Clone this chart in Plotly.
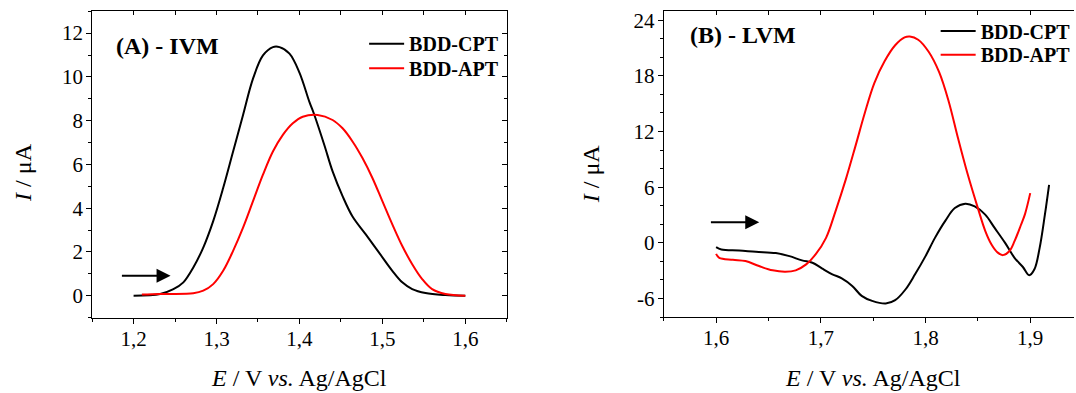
import plotly.graph_objects as go

# ---------------- data ----------------
# Panel A (IVM)
ivm_cpt_E = [1.200, 1.232, 1.248, 1.260, 1.272, 1.284, 1.296, 1.308, 1.320, 1.332, 1.344, 1.356,
             1.368, 1.376, 1.388, 1.400, 1.412, 1.418, 1.430, 1.440, 1.452, 1.464, 1.480, 1.496,
             1.512, 1.524, 1.536, 1.552, 1.576, 1.600]
ivm_cpt_I = [0.00, 0.08, 0.30, 0.61, 1.29, 2.20, 3.41, 4.92, 6.59, 8.26, 9.92, 10.98,
             11.36, 11.36, 11.06, 10.20, 8.86, 8.26, 6.89, 5.68, 4.55, 3.62, 2.80, 1.97,
             1.14, 0.61, 0.30, 0.12, 0.03, 0.00]

ivm_apt_E = [1.210, 1.232, 1.272, 1.284, 1.296, 1.308, 1.320, 1.332, 1.344, 1.356, 1.368, 1.380,
             1.392, 1.404, 1.422, 1.440, 1.452, 1.464, 1.476, 1.488, 1.500, 1.512, 1.524, 1.536,
             1.548, 1.560, 1.576, 1.600]
ivm_apt_I = [0.05, 0.08, 0.11, 0.23, 0.53, 1.14, 2.05, 3.11, 4.32, 5.53, 6.59, 7.35,
             7.88, 8.18, 8.26, 8.03, 7.65, 7.05, 6.29, 5.38, 4.32, 3.26, 2.27, 1.44,
             0.76, 0.30, 0.08, 0.00]

# Panel B (LVM)
lvm_cpt_E = [1.600, 1.605, 1.622, 1.638, 1.657, 1.670, 1.682, 1.692, 1.701, 1.711, 1.720, 1.730,
             1.739, 1.749, 1.762, 1.771, 1.781, 1.790, 1.800, 1.809, 1.819, 1.828, 1.838, 1.847,
             1.857, 1.866, 1.876, 1.885, 1.893, 1.899, 1.904, 1.909, 1.914, 1.918]
lvm_cpt_I = [-0.46, -0.71, -0.82, -0.96, -1.10, -1.43, -1.89, -2.14, -2.75, -3.39, -3.82, -4.64,
             -5.71, -6.25, -6.54, -6.18, -5.00, -3.39, -1.43, 0.54, 2.40, 3.75, 4.22, 3.93,
             3.04, 1.61, 0.00, -1.61, -2.60, -3.49, -2.85, -0.54, 3.04, 6.26]

lvm_apt_E = [1.600, 1.603, 1.616, 1.628, 1.641, 1.654, 1.666, 1.676, 1.686, 1.695, 1.705, 1.714,
             1.724, 1.733, 1.742, 1.751, 1.761, 1.771, 1.780, 1.785, 1.793, 1.803, 1.813, 1.822,
             1.831, 1.840, 1.850, 1.857, 1.863, 1.869, 1.874, 1.880, 1.885, 1.891, 1.895, 1.900]
lvm_apt_I = [-1.18, -1.61, -1.82, -1.96, -2.50, -2.96, -3.11, -2.96, -2.32, -1.25, 0.54, 3.40,
             6.90, 10.40, 14.00, 17.20, 19.60, 21.30, 22.15, 22.25, 21.90, 20.60, 18.40, 15.30,
             11.30, 7.50, 3.75, 1.30, -0.17, -1.05, -1.32, -0.90, 0.18, 1.90, 3.10, 5.36]

series_names = ["BDD-CPT", "BDD-APT"]
lvm_ytickvals = [-6, 0, 6, 12, 18, 24]
lvm_yticktext = ["-6", "0", "6", "12", "18", "24"]

# ---------------- figure ----------------
FONT = "Liberation Serif"
W, H = 1076, 393

def px(xp):
    return xp / W

def py(yp):
    return 1 - yp / H

fig = go.Figure()

fig.add_trace(go.Scatter(x=ivm_cpt_E, y=ivm_cpt_I, mode="lines", name=series_names[0],
                         line=dict(color="black", width=2, shape="spline"),
                         xaxis="x", yaxis="y", legend="legend"))
fig.add_trace(go.Scatter(x=ivm_apt_E, y=ivm_apt_I, mode="lines", name=series_names[1],
                         line=dict(color="#ff0000", width=2, shape="spline"),
                         xaxis="x", yaxis="y", legend="legend2"))
fig.add_trace(go.Scatter(x=lvm_cpt_E, y=lvm_cpt_I, mode="lines", name=series_names[0],
                         line=dict(color="black", width=2, shape="spline"),
                         xaxis="x2", yaxis="y2", legend="legend3"))
fig.add_trace(go.Scatter(x=lvm_apt_E, y=lvm_apt_I, mode="lines", name=series_names[1],
                         line=dict(color="#ff0000", width=2, shape="spline"),
                         xaxis="x2", yaxis="y2", legend="legend4"))
# empty traces so the mirrored (inside-tick) frame axes are drawn
fig.add_trace(go.Scatter(x=[], y=[], xaxis="x3", yaxis="y3", showlegend=False, hoverinfo="skip"))
fig.add_trace(go.Scatter(x=[], y=[], xaxis="x4", yaxis="y4", showlegend=False, hoverinfo="skip"))

tickfont = dict(family=FONT, size=21, color="black")
base_ax = dict(showgrid=False, zeroline=False, showline=True, linecolor="black", linewidth=1,
               tickcolor="black", tickwidth=1, tickfont=tickfont)

A_dom_x = [px(92.3), px(507.7)]
A_dom_y = [py(317.2), py(9.3)]
B_dom_x = [px(665.0), 1.0]
B_dom_y = [py(316.7), py(9.0)]
A_xr = [1.15, 1.65]
A_yr = [-1, 13]
B_xr = [1.55, 1.9418]
B_yr = [-8, 25]

fig.update_layout(
    xaxis=dict(base_ax, domain=A_dom_x, anchor="y", range=A_xr, tickmode="linear", tick0=1.2, dtick=0.1,
               ticks="outside", ticklen=5, ticklabelstandoff=-3,
               minor=dict(tickmode="linear", tick0=1.15, dtick=0.05, ticks="outside", ticklen=3,
                          tickcolor="black", showgrid=False)),
    yaxis=dict(base_ax, domain=A_dom_y, anchor="x", range=A_yr, tickmode="linear", tick0=0, dtick=2,
               ticks="outside", ticklen=5, ticklabelstandoff=-1,
               minor=dict(tickmode="linear", tick0=0, dtick=1, ticks="outside", ticklen=3,
                          tickcolor="black", showgrid=False)),
    xaxis3=dict(base_ax, overlaying="x", side="top", anchor="y3", range=A_xr, tickmode="linear",
                tick0=1.2, dtick=0.1, ticks="inside", ticklen=4, showticklabels=False,
                minor=dict(tickmode="linear", tick0=1.15, dtick=0.05, ticks="inside", ticklen=4,
                           tickcolor="black", showgrid=False)),
    yaxis3=dict(base_ax, overlaying="y", side="right", anchor="x3", range=A_yr, tickmode="linear",
                tick0=0, dtick=2, ticks="inside", ticklen=5, showticklabels=False,
                minor=dict(tickmode="linear", tick0=0, dtick=1, ticks="inside", ticklen=3,
                           tickcolor="black", showgrid=False)),
    xaxis2=dict(base_ax, domain=B_dom_x, anchor="y2", range=B_xr, tickmode="linear", tick0=1.6, dtick=0.1,
                ticks="outside", ticklen=5, ticklabelstandoff=-3,
                minor=dict(tickmode="linear", tick0=1.55, dtick=0.05, ticks="outside", ticklen=3,
                           tickcolor="black", showgrid=False)),
    yaxis2=dict(base_ax, domain=B_dom_y, anchor="x2", range=B_yr, tickmode="array",
                tickvals=lvm_ytickvals, ticktext=lvm_yticktext,
                ticks="outside", ticklen=5, ticklabelstandoff=-1,
                minor=dict(tickmode="linear", tick0=0, dtick=2, ticks="outside", ticklen=3,
                           tickcolor="black", showgrid=False)),
    xaxis4=dict(base_ax, overlaying="x2", side="top", anchor="y4", range=B_xr, tickmode="linear",
                tick0=1.6, dtick=0.1, ticks="inside", ticklen=4, showticklabels=False,
                minor=dict(tickmode="linear", tick0=1.55, dtick=0.05, ticks="inside", ticklen=4,
                           tickcolor="black", showgrid=False)),
    yaxis4=dict(overlaying="y2", range=B_yr, visible=False),
)

legfont = dict(family=FONT, size=20, color="black", weight="bold")
leg_common = dict(font=legfont, bgcolor="rgba(0,0,0,0)", borderwidth=0, itemwidth=35,
                  xanchor="left", yanchor="top", orientation="v")
fig.update_layout(
    legend=dict(leg_common, x=px(364.8), y=py(22.3)),
    legend2=dict(leg_common, x=px(364.8), y=py(47.0)),
    legend3=dict(leg_common, x=px(937.4), y=py(9.5)),
    legend4=dict(leg_common, x=px(937.4), y=py(33.3)),
)

ann = []
# panel titles
ann.append(dict(text="<b>(A) - IVM</b>", xref="paper", yref="paper", x=px(114), y=py(44),
                xanchor="left", yanchor="middle", showarrow=False,
                font=dict(family=FONT, size=24, color="black")))
ann.append(dict(text="<b>(B) - LVM</b>", xref="paper", yref="paper", x=px(689.5), y=py(33),
                xanchor="left", yanchor="middle", showarrow=False,
                font=dict(family=FONT, size=24, color="black")))
# axis titles
xtitle = "<i>E</i> / V <i>vs.</i> Ag/AgCl"
ytitle = "<i>I</i> / μA"
ann.append(dict(text=xtitle, xref="paper", yref="paper", x=px(299.2), y=py(378),
                xanchor="center", yanchor="middle", showarrow=False,
                font=dict(family=FONT, size=24, color="black")))
ann.append(dict(text=xtitle, xref="paper", yref="paper", x=px(875), y=py(378),
                xanchor="center", yanchor="middle", showarrow=False,
                font=dict(family=FONT, size=24, color="black")))
ann.append(dict(text=ytitle, xref="paper", yref="paper", x=px(23), y=py(170.8), textangle=-90,
                xanchor="center", yanchor="middle", showarrow=False,
                font=dict(family=FONT, size=24, color="black")))
ann.append(dict(text=ytitle, xref="paper", yref="paper", x=px(591.7), y=py(172.5), textangle=-90,
                xanchor="center", yanchor="middle", showarrow=False,
                font=dict(family=FONT, size=24, color="black")))
# scan-direction arrows
ann.append(dict(text="", xref="x", yref="y", axref="x", ayref="y", x=1.2446, y=0.91, ax=1.1841, ay=0.91,
                showarrow=True, arrowhead=2, arrowsize=1.4, arrowwidth=2, arrowcolor="black"))
ann.append(dict(text="", xref="x2", yref="y2", axref="x2", ayref="y2", x=1.6412, y=2.22, ax=1.5936, ay=2.22,
                showarrow=True, arrowhead=2, arrowsize=1.4, arrowwidth=2, arrowcolor="black"))

fig.update_layout(
    width=W, height=H, margin=dict(l=0, r=0, t=0, b=0),
    paper_bgcolor="white", plot_bgcolor="white",
    separators=", ",
    font=dict(family=FONT, color="black"),
    annotations=ann,
    showlegend=True,
)

fig.write_html("out.html", config={"displayModeBar": False},
               post_script="document.body.style.margin='0';document.body.style.overflow='hidden';")
